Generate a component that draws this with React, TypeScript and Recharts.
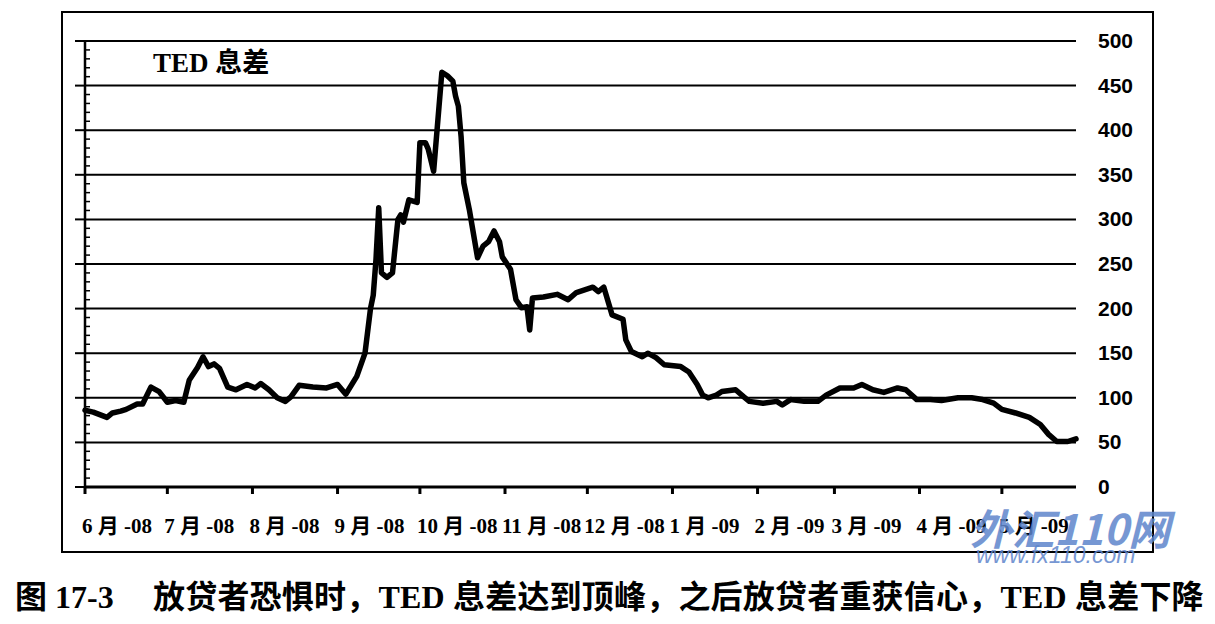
import { CartesianGrid, Line, LineChart, XAxis, YAxis } from 'recharts'

// days counted from 1 June 2008
const days = [
  0, 3, 8, 10, 13, 15, 19, 21, 24, 27, 30, 33, 36, 38, 41, 43, 45, 47, 49, 52,
  55, 59, 62, 64, 67, 70, 73, 75, 78, 83, 88, 92, 95, 99, 102, 104, 105, 106, 107, 108,
  110, 112, 114, 115, 116, 118, 121, 122, 124, 125, 127, 130, 132, 134, 135, 136, 137, 138, 140, 143,
  145, 147, 149, 151, 152, 155, 157, 159, 161, 162, 163, 167, 172, 176, 179, 185, 187, 189, 192, 196,
  197, 199, 203, 205, 208, 211, 217, 220, 223, 225, 227, 230, 232, 237, 240, 242, 247, 252, 254, 257,
  262, 267, 270, 275, 280, 283, 287, 291, 296, 299, 303, 308, 312, 318, 323, 327, 331, 334, 339, 344,
  348, 351, 354, 358, 361,
]

const tedSpread = [
  86, 84, 78, 83, 85, 87, 93, 93, 112, 107, 95, 97, 95, 120, 134, 146, 135, 138, 133, 112,
  109, 115, 111, 116, 109, 100, 96, 101, 114, 112, 111, 115, 104, 124, 150, 200, 215, 255, 313, 240,
  235, 240, 300, 305, 297, 322, 319, 386, 386, 379, 354, 465, 461, 455, 438, 427, 393, 341, 311, 257,
  270, 275, 287, 275, 258, 244, 210, 201, 202, 176, 212, 213, 216, 210, 218, 224, 219, 224, 193, 188,
  165, 152, 146, 150, 145, 137, 135, 129, 115, 103, 100, 103, 107, 109, 101, 96, 94, 96, 92, 98,
  96, 96, 103, 111, 111, 115, 109, 106, 111, 109, 98, 98, 97, 100, 100, 98, 94, 87, 83, 78,
  70, 59, 51, 51, 54,
]

const monthStarts = [0, 30, 61, 92, 122, 153, 183, 214, 245, 273, 304, 334]
const monthLabels = [
  '6 月 -08', '7 月 -08', '8 月 -08', '9 月 -08', '10 月 -08', '11 月 -08',
  '12 月 -08', '1 月 -09', '2 月 -09', '3 月 -09', '4 月 -09', '5 月 -09',
]
const majorTicks = [0, 50, 100, 150, 200, 250, 300, 350, 400, 450, 500]
const minorTicks = Array.from({ length: 51 }, (_, i) => i * 10)

const data = days.map((day, i) => ({ day, ted: tedSpread[i] }))

const labelFont = '"Liberation Serif", "Noto Sans CJK SC", serif'

function MonthTick(props: any) {
  const { x, y, index } = props
  return (
    <g>
      <line x1={x} x2={x} y1={y} y2={y + 7} stroke="#000" strokeWidth={3} />
      <text
        x={x - 3}
        y={y + 46}
        fontSize={21}
        fontWeight="bold"
        fontFamily={labelFont}
        fill="#000"
        textAnchor="start"
      >
        {monthLabels[index]}
      </text>
    </g>
  )
}

function MinorTick(props: any) {
  const { x, y, payload } = props
  if (payload.value % 50 === 0) {
    return <line x1={x - 10} x2={x} y1={y} y2={y} stroke="#000" strokeWidth={2} />
  }
  return <line x1={x} x2={x + 5} y1={y} y2={y} stroke="#000" strokeWidth={1.5} />
}

function ValueTick(props: any) {
  const { x, y, payload } = props
  return (
    <text
      x={x + 22}
      y={y}
      dy={7}
      fontSize={21}
      fontWeight="bold"
      fontFamily='"Liberation Sans", Arial, sans-serif'
      fill="#000"
      textAnchor="start"
    >
      {payload.value}
    </text>
  )
}

export default function App() {
  return (
    <div
      style={{
        position: 'absolute',
        left: 0,
        top: 0,
        width: 1215,
        height: 624,
        background: '#fff',
        overflow: 'hidden',
      }}
    >
      <div
        style={{
          position: 'absolute',
          left: 61,
          top: 11,
          width: 1089,
          height: 538,
          border: '2px solid #000',
        }}
      />
      <div style={{ position: 'absolute', left: 0, top: 0 }}>
        <LineChart
          width={1215}
          height={624}
          data={data}
          margin={{ top: 41, right: 79, bottom: 87, left: 65 }}
        >
          <CartesianGrid
            yAxisId="right"
            vertical={false}
            stroke="#000"
            strokeWidth={2}
          />
          <XAxis
            dataKey="day"
            type="number"
            domain={[0, 361]}
            ticks={monthStarts}
            interval={0}
            height={50}
            tickSize={0}
            tickMargin={0}
            tickLine={false}
            axisLine={{ stroke: '#000', strokeWidth: 3 }}
            tick={<MonthTick />}
          />
          <YAxis
            yAxisId="left"
            domain={[0, 500]}
            ticks={minorTicks}
            interval={0}
            width={20}
            tickSize={0}
            tickMargin={0}
            tickLine={false}
            axisLine={{ stroke: '#000', strokeWidth: 2.5 }}
            tick={<MinorTick />}
          />
          <YAxis
            yAxisId="right"
            orientation="right"
            domain={[0, 500]}
            ticks={majorTicks}
            interval={0}
            width={60}
            tickSize={0}
            tickMargin={0}
            tickLine={false}
            axisLine={false}
            tick={<ValueTick />}
          />
          {/* same series bound to the right axis so its scale and ticks exist; drawn invisibly */}
          <Line
            yAxisId="right"
            dataKey="ted"
            stroke="none"
            dot={false}
            activeDot={false}
            legendType="none"
            isAnimationActive={false}
          />
          <Line
            yAxisId="left"
            dataKey="ted"
            type="linear"
            stroke="#000"
            strokeWidth={5.5}
            strokeLinejoin="round"
            strokeLinecap="round"
            dot={false}
            isAnimationActive={false}
          />
        </LineChart>
      </div>
      <div
        style={{
          position: 'absolute',
          left: 153,
          top: 48,
          fontSize: 27,
          lineHeight: '30px',
          fontWeight: 'bold',
          fontFamily: labelFont,
          whiteSpace: 'pre',
        }}
      >
        TED 息差
      </div>
      <div
        style={{
          position: 'absolute',
          left: 970,
          top: 504,
          fontSize: 42,
          lineHeight: '46px',
          fontWeight: 'bold',
          fontStyle: 'italic',
          fontFamily: '"Noto Sans CJK SC", sans-serif',
          color: '#5f86cc',
          opacity: 0.85,
          whiteSpace: 'pre',
        }}
      >
        外汇110网
      </div>
      <div
        style={{
          position: 'absolute',
          left: 976,
          top: 543,
          fontSize: 23,
          lineHeight: '24px',
          fontStyle: 'italic',
          fontFamily: '"Liberation Sans", Arial, sans-serif',
          color: '#5f86cc',
          opacity: 0.85,
          whiteSpace: 'pre',
        }}
      >
        www.fx110.com
      </div>
      <div
        style={{
          position: 'absolute',
          left: 15,
          top: 579,
          fontSize: 32,
          lineHeight: '36px',
          fontWeight: 'bold',
          fontFamily: labelFont,
          whiteSpace: 'pre',
        }}
      >
        图 17-3
      </div>
      <div
        style={{
          position: 'absolute',
          left: 153,
          top: 579,
          fontSize: 32,
          lineHeight: '36px',
          letterSpacing: 0.2,
          fontWeight: 'bold',
          fontFamily: labelFont,
          whiteSpace: 'pre',
        }}
      >
        放贷者恐惧时，TED 息差达到顶峰，之后放贷者重获信心，TED 息差下降
      </div>
    </div>
  )
}
